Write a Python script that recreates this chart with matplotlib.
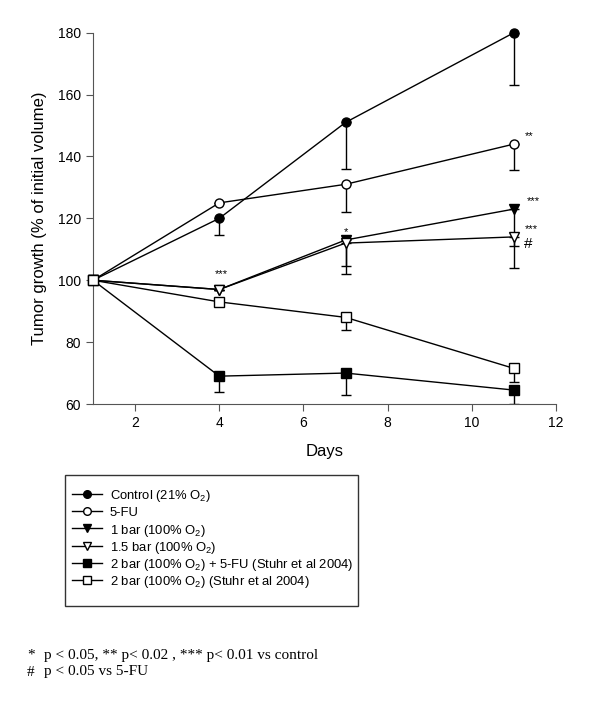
import matplotlib.pyplot as plt
from matplotlib.lines import Line2D
from matplotlib.patches import Rectangle

plt.rcParams['font.family'] = ['Liberation Sans', 'DejaVu Sans']
plt.rcParams['mathtext.fontset'] = 'custom'
plt.rcParams['mathtext.rm'] = 'Liberation Sans'
plt.rcParams['mathtext.it'] = 'Liberation Sans:italic'

days = [1, 4, 7, 11]

control = [100, 120, 151, 180]
control_err = [0, 5.5, 15, 17]
fu5 = [100, 125, 131, 144]
fu5_err = [0, 0, 9, 8.5]
bar1 = [100, 97, 113, 123]
bar1_err = [0, 0, 11, 19]
bar15 = [100, 97, 112, 114]
bar15_err = [0, 0, 7.5, 3]
bar2_fu = [100, 69, 70, 64.5]
bar2_fu_err = [0, 5, 7, 4.5]
bar2 = [100, 93, 88, 71.5]
bar2_err = [0, 0, 4, 4.5]

labels = ['Control (21% O$_2$)', '5-FU', '1 bar (100% O$_2$)', '1.5 bar (100% O$_2$)',
          '2 bar (100% O$_2$) + 5-FU (Stuhr et al 2004)', '2 bar (100% O$_2$) (Stuhr et al 2004)']

series = [
    (control, control_err, 'o', 'black'),
    (fu5, fu5_err, 'o', 'white'),
    (bar1, bar1_err, 'v', 'black'),
    (bar15, bar15_err, 'v', 'white'),
    (bar2_fu, bar2_fu_err, 's', 'black'),
    (bar2, bar2_err, 's', 'white'),
]

W, H = 600, 702
fig = plt.figure(figsize=(W / 100, H / 100), dpi=100)
ax = fig.add_axes([93 / W, 1 - 404 / H, (556 - 93) / W, (404 - 32.7) / H])

for vals, err, mk, fc in series:
    ax.errorbar(days, vals, yerr=[err, [0] * len(err)], fmt='none', ecolor='black',
                elinewidth=1, capsize=3.6, capthick=1, zorder=2)
    ax.plot(days, vals, color='black', lw=1, marker=mk, markersize=6.5,
            markerfacecolor=fc, markeredgecolor='black', zorder=3, clip_on=False)

# significance marks
ax.text(11.25, 145.5, '**', fontsize=8)
ax.text(11.3, 124.5, '***', fontsize=8)
ax.text(11.25, 115.5, '***', fontsize=8)
ax.text(11.25, 110.5, '#', fontsize=11)
ax.text(6.95, 114.5, '*', fontsize=8)
ax.text(3.9, 101, '***', fontsize=8)

ax.set_xlim(1, 12)
ax.set_ylim(60, 180)
ax.set_xticks([2, 4, 6, 8, 10, 12])
ax.set_yticks([60, 80, 100, 120, 140, 160, 180])
ax.spines['top'].set_visible(False)
ax.spines['right'].set_visible(False)
for s in ['left', 'bottom']:
    ax.spines[s].set_color('#555555')
ax.tick_params(direction='out', length=5, labelsize=10, color='#555555')
ax.set_xlabel('Days', fontsize=12, labelpad=10)
ax.set_ylabel('Tumor growth (% of initial volume)', fontsize=12, labelpad=8)

# legend box drawn by hand
fig.add_artist(Rectangle((65 / W, 1 - 606 / H), (358 - 65) / W, (606 - 475) / H,
                         transform=fig.transFigure, fill=False, edgecolor='#333333', lw=1))
for i, ((vals, err, mk, fc), lab) in enumerate(zip(series, labels)):
    y = 1 - (494 + i * 17.2) / H
    fig.add_artist(Line2D([72 / W, 102 / W], [y, y], transform=fig.transFigure,
                          color='black', lw=1))
    fig.add_artist(Line2D([87 / W], [y], transform=fig.transFigure, marker=mk,
                          markersize=5.5, markerfacecolor=fc, markeredgecolor='black', lw=0))
    fig.text(110 / W, y, lab, fontsize=9.4, va='center_baseline')

serif = ['Liberation Serif']
fig.text(27 / W, 1 - 655 / H, '*', fontsize=11, va='center', family=serif)
fig.text(44 / W, 1 - 655 / H, 'p < 0.05, ** p< 0.02 , *** p< 0.01 vs control',
         fontsize=11, va='center', family=serif)
fig.text(27 / W, 1 - 672 / H, '#', fontsize=11, va='center', family=serif)
fig.text(44 / W, 1 - 672 / H, 'p < 0.05 vs 5-FU', fontsize=11, va='center', family=serif)

fig.savefig('out.png', dpi=100)
